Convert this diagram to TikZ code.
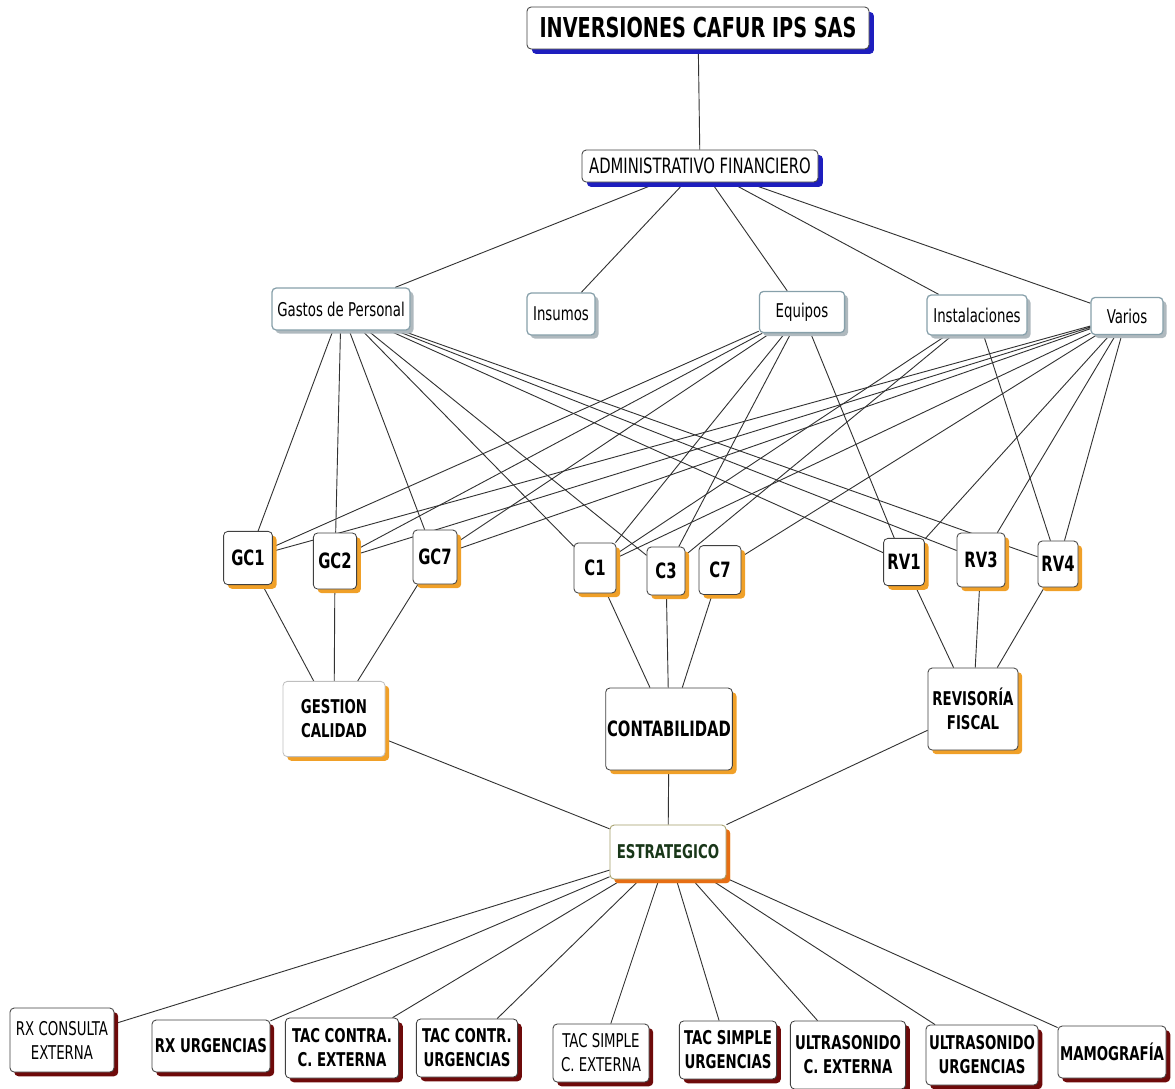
\documentclass[tikz,border=0pt]{standalone}
\usepackage{fontspec}
\setmainfont{DejaVu Sans Condensed}[FakeStretch=0.78]
\usetikzlibrary{shadows,backgrounds}

\definecolor{shblue}{RGB}{30,30,190}
\definecolor{catline}{RGB}{135,160,170}
\definecolor{catshade}{RGB}{175,185,190}
\definecolor{shorange}{RGB}{240,160,40}
\definecolor{shdeep}{RGB}{230,110,20}
\definecolor{shred}{RGB}{110,10,10}
\definecolor{stratgreen}{RGB}{25,55,25}
\definecolor{linkgray}{RGB}{50,50,50}

\tikzset{
    base/.style={draw=black!75, fill=white, rounded corners=3pt, inner sep=1pt, align=center, line width=0.6pt},
    topbox/.style={base, drop shadow={shadow xshift=3.5pt, shadow yshift=-3.5pt, fill=shblue, opacity=1}},
    catbox/.style={base, draw=catline, line width=0.9pt, font=\fontsize{13.5}{15}\selectfont,
        drop shadow={shadow xshift=2.5pt, shadow yshift=-2.5pt, fill=catshade, opacity=1}},
    itembox/.style={base, font=\fontsize{15}{17}\selectfont\bfseries,
        drop shadow={shadow xshift=3pt, shadow yshift=-3pt, fill=shorange, opacity=1}},
    areabox/.style={itembox, font=\fontsize{13.5}{17}\selectfont\bfseries},
    servbox/.style={base, font=\fontsize{13.5}{17}\selectfont\bfseries,
        drop shadow={shadow xshift=3pt, shadow yshift=-3pt, fill=shred, opacity=1}},
    link/.style={draw=linkgray, line width=0.65pt},
}

\begin{document}
\begin{tikzpicture}[x=0.025cm, y=-0.025cm]
    \useasboundingbox (0,0) rectangle (1175,1088);

    \node[topbox, minimum width=8.55cm, minimum height=1.05cm, font=\fontsize{19.5}{21}\selectfont\bfseries] (title) at (698,28) {INVERSIONES CAFUR IPS SAS};
    \node[topbox, minimum width=5.9cm, minimum height=0.8cm, font=\fontsize{15}{17}\selectfont] (admin) at (700,166) {ADMINISTRATIVO FINANCIERO};

    \node[catbox, minimum width=3.45cm, minimum height=1.05cm] (gastos) at (341,309) {Gastos de Personal};
    \node[catbox, minimum width=1.7cm, minimum height=1.05cm] (insumos) at (561,314) {Insumos};
    \node[catbox, minimum width=2.13cm, minimum height=1.03cm] (equipos) at (802,312) {Equipos};
    \node[catbox, minimum width=2.5cm, minimum height=1.0cm] (instal) at (977,315) {Instalaciones};
    \node[catbox, minimum width=1.8cm, minimum height=0.93cm] (varios) at (1127,316) {Varios};

    \node[itembox, minimum width=1.22cm, minimum height=1.33cm] (gc1) at (248,558) {GC1};
    \node[itembox, minimum width=1.08cm, minimum height=1.4cm] (gc2) at (335,561) {GC2};
    \node[itembox, minimum width=1.1cm, minimum height=1.35cm] (gc7) at (435,557) {GC7};
    \node[itembox, minimum width=1.05cm, minimum height=1.25cm] (c1) at (595,568) {C1};
    \node[itembox, minimum width=0.95cm, minimum height=1.2cm] (c3) at (666,571) {C3};
    \node[itembox, minimum width=1.05cm, minimum height=1.22cm] (c7) at (720,570) {C7};
    \node[itembox, minimum width=1.02cm, minimum height=1.18cm] (rv1) at (904,562) {RV1};
    \node[itembox, minimum width=1.2cm, minimum height=1.35cm] (rv3) at (981,560) {RV3};
    \node[itembox, minimum width=1.0cm, minimum height=1.15cm] (rv4) at (1058,564) {RV4};

    \node[areabox, draw=black!25, minimum width=2.55cm, minimum height=1.88cm] (gestion) at (334,719) {GESTION\\CALIDAD};
    \node[areabox, minimum width=3.05cm, minimum height=2.05cm, font=\fontsize{15}{17}\selectfont\bfseries] (contab) at (669,729) {CONTABILIDAD};
    \node[areabox, minimum width=2.25cm, minimum height=2.05cm] (revis) at (973,709) {REVISORÍA\\FISCAL};
    \node[areabox, draw=black!40!olive!60, minimum width=2.9cm, minimum height=1.35cm, text=stratgreen,
        drop shadow={shadow xshift=3pt, shadow yshift=-3pt, fill=shdeep, opacity=1}] (estr) at (668,852) {ESTRATEGICO};

    \node[servbox, minimum width=2.6cm, minimum height=1.6cm, font=\fontsize{13.5}{17}\selectfont] (rxce) at (62,1040) {RX CONSULTA\\EXTERNA};
    \node[servbox, minimum width=2.95cm, minimum height=1.3cm] (rxurg) at (211,1046) {RX URGENCIAS};
    \node[servbox, minimum width=2.83cm, minimum height=1.5cm] (taccce) at (342,1048) {TAC CONTRA.\\C. EXTERNA};
    \node[servbox, minimum width=2.53cm, minimum height=1.45cm] (taccurg) at (467,1048) {TAC CONTR.\\URGENCIAS};
    \node[servbox, minimum width=2.4cm, minimum height=1.45cm, font=\fontsize{13.5}{17}\selectfont] (tacsce) at (601,1053) {TAC SIMPLE\\C. EXTERNA};
    \node[servbox, minimum width=2.43cm, minimum height=1.45cm] (tacsurg) at (728,1050) {TAC SIMPLE\\URGENCIAS};
    \node[servbox, minimum width=2.88cm, minimum height=1.7cm] (usce) at (848,1055) {ULTRASONIDO\\C. EXTERNA};
    \node[servbox, minimum width=2.8cm, minimum height=1.5cm] (usurg) at (982,1055) {ULTRASONIDO\\URGENCIAS};
    \node[servbox, minimum width=2.7cm, minimum height=1.3cm] (mamo) at (1112,1052) {MAMOGRAFÍA};

    \begin{scope}[on background layer]
        \draw[link] (title) -- (admin);
        \draw[link] (admin) -- (gastos) (admin) -- (insumos) (admin) -- (equipos) (admin) -- (instal) (admin) -- (varios);
        \draw[link] (gastos) -- (gc1) (gastos) -- (gc2) (gastos) -- (gc7) (gastos) -- (c1) (gastos) -- (c3) (gastos) -- (rv1) (gastos) -- (rv3) (gastos) -- (rv4);
        \draw[link] (equipos) -- (gc1) (equipos) -- (gc2) (equipos) -- (gc7) (equipos) -- (c1) (equipos) -- (c3) (equipos) -- (rv1);
        \draw[link] (instal) -- (c1) (instal) -- (c3) (instal) -- (rv4);
        \draw[link] (varios) -- (gc1) (varios) -- (gc2) (varios) -- (gc7) (varios) -- (c1) (varios) -- (c7) (varios) -- (rv1) (varios) -- (rv3) (varios) -- (rv4);
        \draw[link] (gc1) -- (gestion) (gc2) -- (gestion) (gc7) -- (gestion);
        \draw[link] (c1) -- (contab) (c3) -- (contab) (c7) -- (contab);
        \draw[link] (rv1) -- (revis) (rv3) -- (revis) (rv4) -- (revis);
        \draw[link] (gestion) -- (estr) (contab) -- (estr) (revis) -- (estr);
        \draw[link] (estr) -- (rxce) (estr) -- (rxurg) (estr) -- (taccce) (estr) -- (taccurg) (estr) -- (tacsce) (estr) -- (tacsurg) (estr) -- (usce) (estr) -- (usurg) (estr) -- (mamo);
    \end{scope}
\end{tikzpicture}
\end{document}
